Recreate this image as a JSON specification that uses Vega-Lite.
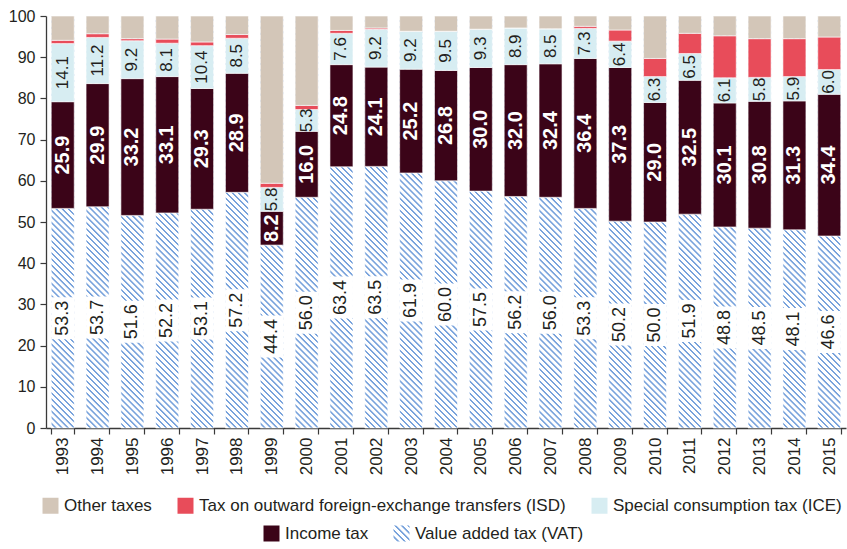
{
  "$schema": "https://vega.github.io/schema/vega-lite/v6.json",
  "width": 800,
  "height": 412,
  "autosize": {"type": "none"},
  "padding": {"left": 46, "top": 16, "right": 1, "bottom": 121},
  "background": "white",
  "config": {
    "view": {"stroke": null},
    "font": "Liberation Sans, Arial, sans-serif",
    "axis": {"labelFont": "Liberation Sans, Arial, sans-serif", "labelColor": "#231f20", "labelFontSize": 16, "domainColor": "#3a3a3a", "tickColor": "#3a3a3a", "grid": false, "domainWidth": 1.3, "tickWidth": 1.2},
    "legend": {"labelFont": "Liberation Sans, Arial, sans-serif", "labelFontSize": 17, "labelColor": "#231f20", "symbolSize": 256, "symbolType": "square", "labelOffset": 5, "columnPadding": 25, "labelLimit": 600, "padding": 0, "symbolStrokeWidth": 0},
    "text": {"font": "Liberation Sans, Arial, sans-serif"}
  },
  "datasets": {
    "rates": [
      {"year": 1993, "VAT": 53.3, "Income": 25.9, "ICE": 14.1, "ISD": 0.8, "Other": 5.9},
      {"year": 1994, "VAT": 53.7, "Income": 29.9, "ICE": 11.2, "ISD": 0.9, "Other": 4.3},
      {"year": 1995, "VAT": 51.6, "Income": 33.2, "ICE": 9.2, "ISD": 0.5, "Other": 5.5},
      {"year": 1996, "VAT": 52.2, "Income": 33.1, "ICE": 8.1, "ISD": 1.0, "Other": 5.6},
      {"year": 1997, "VAT": 53.1, "Income": 29.3, "ICE": 10.4, "ISD": 0.9, "Other": 6.3},
      {"year": 1998, "VAT": 57.2, "Income": 28.9, "ICE": 8.5, "ISD": 0.9, "Other": 4.5},
      {"year": 1999, "VAT": 44.4, "Income": 8.2, "ICE": 5.8, "ISD": 1.0, "Other": 40.6},
      {"year": 2000, "VAT": 56.0, "Income": 16.0, "ICE": 5.3, "ISD": 1.0, "Other": 21.7},
      {"year": 2001, "VAT": 63.4, "Income": 24.8, "ICE": 7.6, "ISD": 0.7, "Other": 3.5},
      {"year": 2002, "VAT": 63.5, "Income": 24.1, "ICE": 9.2, "ISD": 0.3, "Other": 2.9},
      {"year": 2003, "VAT": 61.9, "Income": 25.2, "ICE": 9.2, "ISD": 0, "Other": 3.7},
      {"year": 2004, "VAT": 60.0, "Income": 26.8, "ICE": 9.5, "ISD": 0, "Other": 3.7},
      {"year": 2005, "VAT": 57.5, "Income": 30.0, "ICE": 9.3, "ISD": 0, "Other": 3.2},
      {"year": 2006, "VAT": 56.2, "Income": 32.0, "ICE": 8.9, "ISD": 0, "Other": 2.9},
      {"year": 2007, "VAT": 56.0, "Income": 32.4, "ICE": 8.5, "ISD": 0, "Other": 3.1},
      {"year": 2008, "VAT": 53.3, "Income": 36.4, "ICE": 7.3, "ISD": 0.5, "Other": 2.5},
      {"year": 2009, "VAT": 50.2, "Income": 37.3, "ICE": 6.4, "ISD": 2.7, "Other": 3.4},
      {"year": 2010, "VAT": 50.0, "Income": 29.0, "ICE": 6.3, "ISD": 4.4, "Other": 10.3},
      {"year": 2011, "VAT": 51.9, "Income": 32.5, "ICE": 6.5, "ISD": 4.9, "Other": 4.2},
      {"year": 2012, "VAT": 48.8, "Income": 30.1, "ICE": 6.1, "ISD": 10.2, "Other": 4.8},
      {"year": 2013, "VAT": 48.5, "Income": 30.8, "ICE": 5.8, "ISD": 9.4, "Other": 5.5},
      {"year": 2014, "VAT": 48.1, "Income": 31.3, "ICE": 5.9, "ISD": 9.2, "Other": 5.5},
      {"year": 2015, "VAT": 46.6, "Income": 34.4, "ICE": 6.0, "ISD": 7.9, "Other": 5.1}
    ],
    "taxes": [
      {"key": "VAT", "tax": "Value added tax (VAT)", "ord": 1},
      {"key": "Income", "tax": "Income tax", "ord": 2},
      {"key": "ICE", "tax": "Special consumption tax (ICE)", "ord": 3},
      {"key": "ISD", "tax": "Tax on outward foreign-exchange transfers (ISD)", "ord": 4},
      {"key": "Other", "tax": "Other taxes", "ord": 5}
    ]
  },
  "data": {"name": "rates"},
  "transform": [
    {"fold": ["VAT", "Income", "ICE", "ISD", "Other"], "as": ["key", "value"]},
    {"lookup": "key", "from": {"data": {"name": "taxes"}, "key": "key", "fields": ["tax", "ord"]}}
  ],
  "encoding": {
    "x": {"field": "year", "type": "ordinal", "scale": {"paddingInner": 0.34, "paddingOuter": 0.15},
      "axis": {"title": null, "labelAngle": -90, "labelFontSize": 17, "tickBand": "extent", "tickSize": 6, "labelPadding": 3}}
  },
  "layer": [
    {
      "transform": [{"filter": "datum.key === 'VAT'"}],
      "mark": {"type": "bar", "color": {"gradient": "linear", "x1": 0, "y1": 1, "x2": 0.05876, "y2": -0.05256, "stops": [
        {"offset":0,"color":"#fff"},{"offset":0.0077,"color":"#fff"},{"offset":0.0091,"color":"#79a3dc"},{"offset":0.0126,"color":"#79a3dc"},
        {"offset":0.014,"color":"#fff"},{"offset":0.0217,"color":"#fff"},{"offset":0.0231,"color":"#79a3dc"},{"offset":0.0266,"color":"#79a3dc"},
        {"offset":0.028,"color":"#fff"},{"offset":0.0357,"color":"#fff"},{"offset":0.0371,"color":"#79a3dc"},{"offset":0.0406,"color":"#79a3dc"},
        {"offset":0.042,"color":"#fff"},{"offset":0.0497,"color":"#fff"},{"offset":0.0511,"color":"#79a3dc"},{"offset":0.0546,"color":"#79a3dc"},
        {"offset":0.056,"color":"#fff"},{"offset":0.0637,"color":"#fff"},{"offset":0.0651,"color":"#79a3dc"},{"offset":0.0686,"color":"#79a3dc"},
        {"offset":0.07,"color":"#fff"},{"offset":0.0777,"color":"#fff"},{"offset":0.0791,"color":"#79a3dc"},{"offset":0.0826,"color":"#79a3dc"},
        {"offset":0.084,"color":"#fff"},{"offset":0.0917,"color":"#fff"},{"offset":0.0931,"color":"#79a3dc"},{"offset":0.0966,"color":"#79a3dc"},
        {"offset":0.098,"color":"#fff"},{"offset":0.1057,"color":"#fff"},{"offset":0.1071,"color":"#79a3dc"},{"offset":0.1106,"color":"#79a3dc"},
        {"offset":0.112,"color":"#fff"},{"offset":0.1197,"color":"#fff"},{"offset":0.1211,"color":"#79a3dc"},{"offset":0.1246,"color":"#79a3dc"},
        {"offset":0.126,"color":"#fff"},{"offset":0.1337,"color":"#fff"},{"offset":0.1351,"color":"#79a3dc"},{"offset":0.1386,"color":"#79a3dc"},
        {"offset":0.14,"color":"#fff"},{"offset":0.1477,"color":"#fff"},{"offset":0.1491,"color":"#79a3dc"},{"offset":0.1526,"color":"#79a3dc"},
        {"offset":0.154,"color":"#fff"},{"offset":0.1617,"color":"#fff"},{"offset":0.1631,"color":"#79a3dc"},{"offset":0.1666,"color":"#79a3dc"},
        {"offset":0.168,"color":"#fff"},{"offset":0.1757,"color":"#fff"},{"offset":0.1771,"color":"#79a3dc"},{"offset":0.1806,"color":"#79a3dc"},
        {"offset":0.182,"color":"#fff"},{"offset":0.1897,"color":"#fff"},{"offset":0.1911,"color":"#79a3dc"},{"offset":0.1946,"color":"#79a3dc"},
        {"offset":0.196,"color":"#fff"},{"offset":0.2037,"color":"#fff"},{"offset":0.2051,"color":"#79a3dc"},{"offset":0.2086,"color":"#79a3dc"},
        {"offset":0.21,"color":"#fff"},{"offset":0.2177,"color":"#fff"},{"offset":0.2191,"color":"#79a3dc"},{"offset":0.2226,"color":"#79a3dc"},
        {"offset":0.224,"color":"#fff"},{"offset":0.2317,"color":"#fff"},{"offset":0.2331,"color":"#79a3dc"},{"offset":0.2366,"color":"#79a3dc"},
        {"offset":0.238,"color":"#fff"},{"offset":0.2457,"color":"#fff"},{"offset":0.2471,"color":"#79a3dc"},{"offset":0.2506,"color":"#79a3dc"},
        {"offset":0.252,"color":"#fff"},{"offset":0.2597,"color":"#fff"},{"offset":0.2611,"color":"#79a3dc"},{"offset":0.2646,"color":"#79a3dc"},
        {"offset":0.266,"color":"#fff"},{"offset":0.2737,"color":"#fff"},{"offset":0.2751,"color":"#79a3dc"},{"offset":0.2786,"color":"#79a3dc"},
        {"offset":0.28,"color":"#fff"},{"offset":0.2877,"color":"#fff"},{"offset":0.2891,"color":"#79a3dc"},{"offset":0.2926,"color":"#79a3dc"},
        {"offset":0.294,"color":"#fff"},{"offset":0.3017,"color":"#fff"},{"offset":0.3031,"color":"#79a3dc"},{"offset":0.3066,"color":"#79a3dc"},
        {"offset":0.308,"color":"#fff"},{"offset":0.3157,"color":"#fff"},{"offset":0.3171,"color":"#79a3dc"},{"offset":0.3206,"color":"#79a3dc"},
        {"offset":0.322,"color":"#fff"},{"offset":0.3297,"color":"#fff"},{"offset":0.3311,"color":"#79a3dc"},{"offset":0.3346,"color":"#79a3dc"},
        {"offset":0.336,"color":"#fff"},{"offset":0.3437,"color":"#fff"},{"offset":0.3451,"color":"#79a3dc"},{"offset":0.3486,"color":"#79a3dc"},
        {"offset":0.35,"color":"#fff"},{"offset":0.3577,"color":"#fff"},{"offset":0.3591,"color":"#79a3dc"},{"offset":0.3626,"color":"#79a3dc"},
        {"offset":0.364,"color":"#fff"},{"offset":0.3717,"color":"#fff"},{"offset":0.3731,"color":"#79a3dc"},{"offset":0.3766,"color":"#79a3dc"},
        {"offset":0.378,"color":"#fff"},{"offset":0.3857,"color":"#fff"},{"offset":0.3871,"color":"#79a3dc"},{"offset":0.3906,"color":"#79a3dc"},
        {"offset":0.392,"color":"#fff"},{"offset":0.3997,"color":"#fff"},{"offset":0.4011,"color":"#79a3dc"},{"offset":0.4046,"color":"#79a3dc"},
        {"offset":0.406,"color":"#fff"},{"offset":0.4137,"color":"#fff"},{"offset":0.4151,"color":"#79a3dc"},{"offset":0.4186,"color":"#79a3dc"},
        {"offset":0.42,"color":"#fff"},{"offset":0.4277,"color":"#fff"},{"offset":0.4291,"color":"#79a3dc"},{"offset":0.4326,"color":"#79a3dc"},
        {"offset":0.434,"color":"#fff"},{"offset":0.4417,"color":"#fff"},{"offset":0.4431,"color":"#79a3dc"},{"offset":0.4466,"color":"#79a3dc"},
        {"offset":0.448,"color":"#fff"},{"offset":0.4557,"color":"#fff"},{"offset":0.4571,"color":"#79a3dc"},{"offset":0.4606,"color":"#79a3dc"},
        {"offset":0.462,"color":"#fff"},{"offset":0.4697,"color":"#fff"},{"offset":0.4711,"color":"#79a3dc"},{"offset":0.4746,"color":"#79a3dc"},
        {"offset":0.476,"color":"#fff"},{"offset":0.4837,"color":"#fff"},{"offset":0.4851,"color":"#79a3dc"},{"offset":0.4886,"color":"#79a3dc"},
        {"offset":0.49,"color":"#fff"},{"offset":0.4977,"color":"#fff"},{"offset":0.4991,"color":"#79a3dc"},{"offset":0.5026,"color":"#79a3dc"},
        {"offset":0.504,"color":"#fff"},{"offset":0.5117,"color":"#fff"},{"offset":0.5131,"color":"#79a3dc"},{"offset":0.5166,"color":"#79a3dc"},
        {"offset":0.518,"color":"#fff"},{"offset":0.5257,"color":"#fff"},{"offset":0.5271,"color":"#79a3dc"},{"offset":0.5306,"color":"#79a3dc"},
        {"offset":0.532,"color":"#fff"},{"offset":0.5397,"color":"#fff"},{"offset":0.5411,"color":"#79a3dc"},{"offset":0.5446,"color":"#79a3dc"},
        {"offset":0.546,"color":"#fff"},{"offset":0.5537,"color":"#fff"},{"offset":0.5551,"color":"#79a3dc"},{"offset":0.5586,"color":"#79a3dc"},
        {"offset":0.56,"color":"#fff"},{"offset":0.5677,"color":"#fff"},{"offset":0.5691,"color":"#79a3dc"},{"offset":0.5726,"color":"#79a3dc"},
        {"offset":0.574,"color":"#fff"},{"offset":0.5817,"color":"#fff"},{"offset":0.5831,"color":"#79a3dc"},{"offset":0.5866,"color":"#79a3dc"},
        {"offset":0.588,"color":"#fff"},{"offset":0.5957,"color":"#fff"},{"offset":0.5971,"color":"#79a3dc"},{"offset":0.6006,"color":"#79a3dc"},
        {"offset":0.602,"color":"#fff"},{"offset":0.6097,"color":"#fff"},{"offset":0.6111,"color":"#79a3dc"},{"offset":0.6146,"color":"#79a3dc"},
        {"offset":0.616,"color":"#fff"},{"offset":0.6237,"color":"#fff"},{"offset":0.6251,"color":"#79a3dc"},{"offset":0.6286,"color":"#79a3dc"},
        {"offset":0.63,"color":"#fff"},{"offset":0.6377,"color":"#fff"},{"offset":0.6391,"color":"#79a3dc"},{"offset":0.6426,"color":"#79a3dc"},
        {"offset":0.644,"color":"#fff"},{"offset":0.6517,"color":"#fff"},{"offset":0.6531,"color":"#79a3dc"},{"offset":0.6566,"color":"#79a3dc"},
        {"offset":0.658,"color":"#fff"},{"offset":0.6657,"color":"#fff"},{"offset":0.6671,"color":"#79a3dc"},{"offset":0.6706,"color":"#79a3dc"},
        {"offset":0.672,"color":"#fff"},{"offset":0.6797,"color":"#fff"},{"offset":0.6811,"color":"#79a3dc"},{"offset":0.6846,"color":"#79a3dc"},
        {"offset":0.686,"color":"#fff"},{"offset":0.6937,"color":"#fff"},{"offset":0.6951,"color":"#79a3dc"},{"offset":0.6986,"color":"#79a3dc"},
        {"offset":0.7,"color":"#fff"},{"offset":0.7077,"color":"#fff"},{"offset":0.7091,"color":"#79a3dc"},{"offset":0.7126,"color":"#79a3dc"},
        {"offset":0.714,"color":"#fff"},{"offset":0.7217,"color":"#fff"},{"offset":0.7231,"color":"#79a3dc"},{"offset":0.7266,"color":"#79a3dc"},
        {"offset":0.728,"color":"#fff"},{"offset":0.7357,"color":"#fff"},{"offset":0.7371,"color":"#79a3dc"},{"offset":0.7406,"color":"#79a3dc"},
        {"offset":0.742,"color":"#fff"},{"offset":0.7497,"color":"#fff"},{"offset":0.7511,"color":"#79a3dc"},{"offset":0.7546,"color":"#79a3dc"},
        {"offset":0.756,"color":"#fff"},{"offset":0.7637,"color":"#fff"},{"offset":0.7651,"color":"#79a3dc"},{"offset":0.7686,"color":"#79a3dc"},
        {"offset":0.77,"color":"#fff"},{"offset":0.7777,"color":"#fff"},{"offset":0.7791,"color":"#79a3dc"},{"offset":0.7826,"color":"#79a3dc"},
        {"offset":0.784,"color":"#fff"},{"offset":0.7917,"color":"#fff"},{"offset":0.7931,"color":"#79a3dc"},{"offset":0.7966,"color":"#79a3dc"},
        {"offset":0.798,"color":"#fff"},{"offset":0.8057,"color":"#fff"},{"offset":0.8071,"color":"#79a3dc"},{"offset":0.8106,"color":"#79a3dc"},
        {"offset":0.812,"color":"#fff"},{"offset":0.8197,"color":"#fff"},{"offset":0.8211,"color":"#79a3dc"},{"offset":0.8246,"color":"#79a3dc"},
        {"offset":0.826,"color":"#fff"},{"offset":0.8337,"color":"#fff"},{"offset":0.8351,"color":"#79a3dc"},{"offset":0.8386,"color":"#79a3dc"},
        {"offset":0.84,"color":"#fff"},{"offset":0.8477,"color":"#fff"},{"offset":0.8491,"color":"#79a3dc"},{"offset":0.8526,"color":"#79a3dc"},
        {"offset":0.854,"color":"#fff"},{"offset":0.8617,"color":"#fff"},{"offset":0.8631,"color":"#79a3dc"},{"offset":0.8666,"color":"#79a3dc"},
        {"offset":0.868,"color":"#fff"},{"offset":0.8757,"color":"#fff"},{"offset":0.8771,"color":"#79a3dc"},{"offset":0.8806,"color":"#79a3dc"},
        {"offset":0.882,"color":"#fff"},{"offset":0.8897,"color":"#fff"},{"offset":0.8911,"color":"#79a3dc"},{"offset":0.8946,"color":"#79a3dc"},
        {"offset":0.896,"color":"#fff"},{"offset":0.9037,"color":"#fff"},{"offset":0.9051,"color":"#79a3dc"},{"offset":0.9086,"color":"#79a3dc"},
        {"offset":0.91,"color":"#fff"},{"offset":0.9177,"color":"#fff"},{"offset":0.9191,"color":"#79a3dc"},{"offset":0.9226,"color":"#79a3dc"},
        {"offset":0.924,"color":"#fff"},{"offset":0.9317,"color":"#fff"},{"offset":0.9331,"color":"#79a3dc"},{"offset":0.9366,"color":"#79a3dc"},
        {"offset":0.938,"color":"#fff"},{"offset":0.9457,"color":"#fff"},{"offset":0.9471,"color":"#79a3dc"},{"offset":0.9506,"color":"#79a3dc"},
        {"offset":0.952,"color":"#fff"},{"offset":0.9597,"color":"#fff"},{"offset":0.9611,"color":"#79a3dc"},{"offset":0.9646,"color":"#79a3dc"},
        {"offset":0.966,"color":"#fff"},{"offset":0.9737,"color":"#fff"},{"offset":0.9751,"color":"#79a3dc"},{"offset":0.9786,"color":"#79a3dc"},
        {"offset":0.98,"color":"#fff"},{"offset":0.9877,"color":"#fff"},{"offset":0.9891,"color":"#79a3dc"},{"offset":0.9926,"color":"#79a3dc"},
        {"offset":0.994,"color":"#fff"},{"offset":1,"color":"#fff"}
      ]}},
      "encoding": {
        "y": {"datum": 100, "type": "quantitative", "scale": {"domain": [0, 100], "nice": false},
          "axis": {"title": null, "values": [0, 10, 20, 30, 40, 50, 60, 70, 80, 90, 100], "tickSize": 6, "labelPadding": 5}}
      }
    },
    {
      "mark": {"type": "bar", "stroke": "#ffffff", "strokeWidth": 0.6},
      "encoding": {
        "y": {"field": "value", "type": "quantitative", "stack": "zero", "scale": {"domain": [0, 100], "nice": false},
          "axis": {"title": null, "values": [0, 10, 20, 30, 40, 50, 60, 70, 80, 90, 100], "tickSize": 6, "labelPadding": 5}},
        "order": {"field": "ord", "type": "quantitative"},
        "color": {"field": "tax", "type": "nominal",
          "scale": {"domain": ["Other taxes", "Tax on outward foreign-exchange transfers (ISD)", "Special consumption tax (ICE)", "Income tax", "Value added tax (VAT)"],
            "range": ["#d3c6b8", "#e84c5a", "#d7edf2", "#3b0418", "rgba(255,255,255,0)"]},
          "legend": {"values": ["Other taxes", "Tax on outward foreign-exchange transfers (ISD)", "Special consumption tax (ICE)"], "orient": "none", "legendX": -4, "legendY": 481, "direction": "horizontal", "title": null}}
      }
    },
    {
      "transform": [{"filter": "datum.key === 'Income'"}],
      "mark": {"type": "bar", "opacity": 0},
      "encoding": {
        "y": {"field": "value", "type": "quantitative", "stack": null, "scale": {"domain": [0, 100], "nice": false},
          "axis": {"title": null, "values": [0, 10, 20, 30, 40, 50, 60, 70, 80, 90, 100], "tickSize": 6, "labelPadding": 5}},
        "fill": {"field": "tax", "type": "nominal",
          "scale": {"domain": ["Income tax"], "range": ["#3b0418"]},
          "legend": {"orient": "none", "legendX": 217, "legendY": 509, "direction": "horizontal", "title": null, "symbolOpacity": 1}}
      }
    },
    {
      "transform": [{"filter": "datum.key === 'VAT'"}],
      "mark": {"type": "point", "shape": "square", "filled": true, "opacity": 0, "color": {"gradient": "linear", "x1": 0, "y1": 1, "x2": 1, "y2": 0, "stops": [{"offset": 0, "color": "#fff"}, {"offset": 0.11, "color": "#fff"}, {"offset": 0.13, "color": "#79a3dc"}, {"offset": 0.18, "color": "#79a3dc"}, {"offset": 0.2, "color": "#fff"}, {"offset": 0.31, "color": "#fff"}, {"offset": 0.33, "color": "#79a3dc"}, {"offset": 0.38, "color": "#79a3dc"}, {"offset": 0.4, "color": "#fff"}, {"offset": 0.51, "color": "#fff"}, {"offset": 0.53, "color": "#79a3dc"}, {"offset": 0.58, "color": "#79a3dc"}, {"offset": 0.6, "color": "#fff"}, {"offset": 0.71, "color": "#fff"}, {"offset": 0.73, "color": "#79a3dc"}, {"offset": 0.78, "color": "#79a3dc"}, {"offset": 0.8, "color": "#fff"}, {"offset": 0.91, "color": "#fff"}, {"offset": 0.93, "color": "#79a3dc"}, {"offset": 0.98, "color": "#79a3dc"}, {"offset": 1, "color": "#fff"}]}},
      "encoding": {
        "y": {"field": "value", "type": "quantitative", "scale": {"domain": [0, 100], "nice": false},
          "axis": {"title": null, "values": [0, 10, 20, 30, 40, 50, 60, 70, 80, 90, 100], "tickSize": 6, "labelPadding": 5}},
        "shape": {"field": "tax", "type": "nominal",
          "scale": {"domain": ["Value added tax (VAT)"], "range": ["square"]},
          "legend": {"orient": "none", "legendX": 347, "legendY": 509, "direction": "horizontal", "title": null, "symbolOpacity": 1}}
      }
    },
    {
      "transform": [{"filter": "datum.key === 'VAT'"}],
      "mark": {"type": "tick", "color": "#ffffff", "thickness": 42, "size": 23, "opacity": 1},
      "encoding": {
        "y": {"field": "value", "type": "quantitative", "stack": "zero", "bandPosition": 0.5, "scale": {"domain": [0, 100], "nice": false},
          "axis": {"title": null, "values": [0, 10, 20, 30, 40, 50, 60, 70, 80, 90, 100], "tickSize": 6, "labelPadding": 5}}
      }
    },
    {
      "transform": [{"filter": "datum.key === 'VAT'"}],
      "mark": {"type": "text", "angle": -90, "fontSize": 18, "color": "#231f20", "align": "center", "baseline": "middle"},
      "encoding": {
        "y": {"field": "value", "type": "quantitative", "stack": "zero", "bandPosition": 0.5, "scale": {"domain": [0, 100], "nice": false},
          "axis": {"title": null, "values": [0, 10, 20, 30, 40, 50, 60, 70, 80, 90, 100], "tickSize": 6, "labelPadding": 5}},
        "text": {"field": "value", "type": "quantitative", "format": ".1f"}
      }
    },
    {
      "mark": {"type": "text", "angle": -90, "fontSize": 20, "fontWeight": "bold", "color": "#ffffff", "align": "center", "baseline": "middle"},
      "encoding": {
        "y": {"field": "value", "type": "quantitative", "stack": "zero", "bandPosition": 0.5, "scale": {"domain": [0, 100], "nice": false},
          "axis": {"title": null, "values": [0, 10, 20, 30, 40, 50, 60, 70, 80, 90, 100], "tickSize": 6, "labelPadding": 5}},
        "order": {"field": "ord", "type": "quantitative"},
        "detail": {"field": "key"},
        "text": {"condition": {"test": "datum.key === 'Income'", "field": "value", "type": "quantitative", "format": ".1f"}, "value": ""}
      }
    },
    {
      "mark": {"type": "text", "angle": -90, "fontSize": 17, "color": "#231f20", "align": "center", "baseline": "middle"},
      "encoding": {
        "y": {"field": "value", "type": "quantitative", "stack": "zero", "bandPosition": 0.5, "scale": {"domain": [0, 100], "nice": false},
          "axis": {"title": null, "values": [0, 10, 20, 30, 40, 50, 60, 70, 80, 90, 100], "tickSize": 6, "labelPadding": 5}},
        "order": {"field": "ord", "type": "quantitative"},
        "detail": {"field": "key"},
        "text": {"condition": {"test": "datum.key === 'ICE'", "field": "value", "type": "quantitative", "format": ".1f"}, "value": ""}
      }
    }
  ]
}
